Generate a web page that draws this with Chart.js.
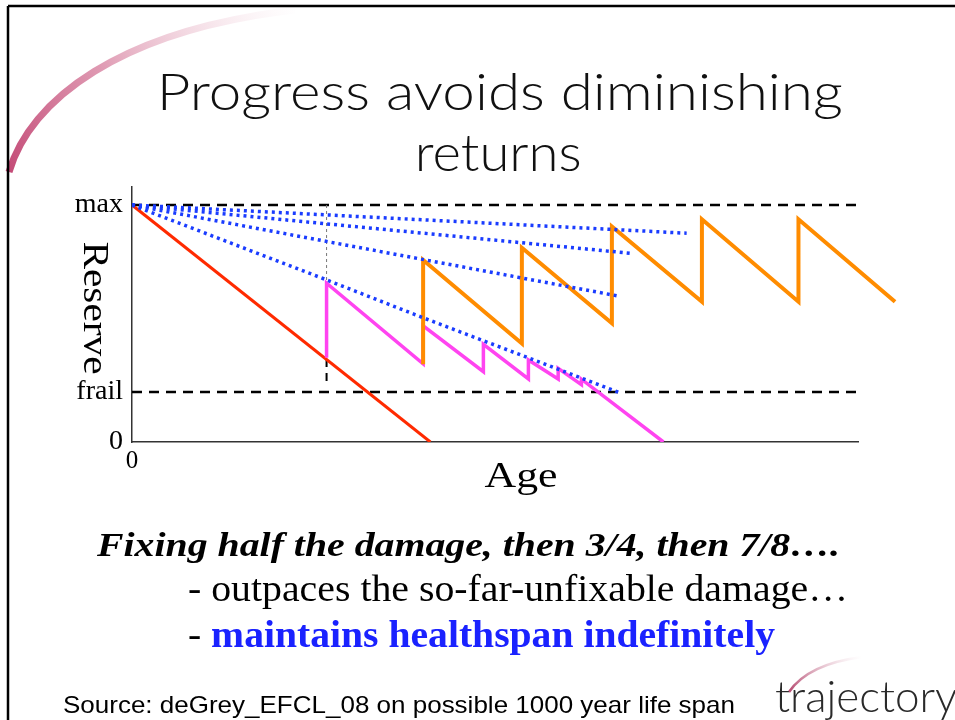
<!DOCTYPE html>
<html>
<head>
<meta charset="utf-8">
<script src="https://cdn.jsdelivr.net/npm/chart.js@4/dist/chart.umd.min.js"></script>
<style>
  body { margin: 0; width: 955px; height: 720px; overflow: hidden; background: #fff; position: relative; }
  canvas { position: absolute; left: 0; top: 0; }
  svg { position: absolute; left: 0; top: 0; }
  .t { position: absolute; white-space: nowrap; line-height: 1; }
</style>
</head>
<body>
<svg width="955" height="720">
  <defs>
    <linearGradient id="sw" gradientUnits="userSpaceOnUse" x1="0" y1="170" x2="300" y2="10">
      <stop offset="0" stop-color="#c24673" stop-opacity="1"/>
      <stop offset="0.4" stop-color="#d7809f" stop-opacity="0.8"/>
      <stop offset="1" stop-color="#f3d6e0" stop-opacity="0"/>
    </linearGradient>
    <linearGradient id="lg" gradientUnits="userSpaceOnUse" x1="788" y1="690" x2="862" y2="658">
      <stop offset="0" stop-color="#b5496f" stop-opacity="1"/>
      <stop offset="1" stop-color="#e8c4d1" stop-opacity="0"/>
    </linearGradient>
  </defs>
  <path d="M 9 172 C 30 100, 120 30, 295 10" stroke="url(#sw)" stroke-width="7" fill="none"/>
  <path d="M 789 692 Q 808 664 862 657" stroke="url(#lg)" stroke-width="2.5" fill="none"/>
  <line x1="8" y1="6" x2="955" y2="6" stroke="#000" stroke-width="2.5"/>
  <line x1="8" y1="6" x2="8" y2="720" stroke="#000" stroke-width="2.5"/>
</svg>
<canvas id="chart" width="955" height="720"></canvas>

<div class="t" data-w="686" data-c="500" style="top:60px;font:300 51px Lato;color:#111">Progress avoids diminishing</div>
<div class="t" data-w="167" data-c="498" style="top:121px;font:300 51px Lato;color:#111">returns</div>

<div class="t" data-w="743" style="left:97px;top:526px;font:italic bold 34px 'Liberation Serif'">Fixing half the damage, then 3/4, then 7/8….</div>
<div class="t" data-w="660" style="left:188px;top:567px;font:37px 'Liberation Serif'">- outpaces the so-far-unfixable damage…</div>
<div class="t" data-w="587" style="left:188px;top:613px;font:37px 'Liberation Serif'">- <b style="color:#1a22ff">maintains healthspan indefinitely</b></div>
<div class="t" data-w="672" style="left:63px;top:691px;font:24px 'Liberation Sans'">Source: deGrey_EFCL_08 on possible 1000 year life span</div>
<div class="t" style="left:775px;top:669px;font:300 44px Lato;color:#2a2a2a">trajectory</div>

<script>
// tick marks on the reserve axis
var tickValues = [0, 21.1, 100];
var tickLabels = ["0", "frail", "max"];

// baseline, no repair
var redAge = [0, 41.1];
var redReserve = [100, 0];

// fixing half the damage once, then smaller fixes
var pinkAge = [26.8, 26.8, 40.1, 40.1, 48.4, 48.4, 54.6, 54.6, 58.7, 58.7, 61.9, 61.9, 73.2];
var pinkReserve = [35.5, 67, 33, 49, 29.7, 41.2, 26.6, 34.6, 26.6, 31.1, 24.2, 26.5, 0];

// progressively better repair
var orangeAge = [40.1, 40.1, 53.7, 53.7, 66.1, 66.1, 78.5, 78.5, 91.8, 91.8, 105.1];
var orangeReserve = [32.8, 76.8, 41.6, 82, 50.1, 90.9, 59.2, 94, 59.2, 94, 59.2];

// dotted envelopes
var blue1Age = [0, 76.4];
var blue1Reserve = [100, 88.1];
var blue2Age = [0, 68.8];
var blue2Reserve = [100, 79.6];
var blue3Age = [0, 66.8];
var blue3Reserve = [100, 61.7];
var blue4Age = [0, 26.8, 39.7, 67];
var blue4Reserve = [100, 68.4, 52.9, 21];

// reference lines
var maxAge = [0, 100];
var maxReserve = [100, 100];
var frailAge = [0, 100];
var frailReserve = [21.1, 21.1];
var markAge = [26.8, 26.8];
var markThinReserve = [100, 66];
var markThickReserve = [35, 24];

function pts(xs, ys) {
    return xs.map(function (x, i) { return {x: x, y: ys[i]}; });
}

function series(xs, ys, color, width, dash, extra) {
    var d = {
        data: pts(xs, ys),
        showLine: true,
        borderColor: color,
        borderWidth: width,
        borderDash: dash || [],
        pointRadius: 0,
        borderCapStyle: 'butt',
        borderJoinStyle: 'miter',
        tension: 0
    };
    return Object.assign(d, extra || {});
}

var blue = '#1a3cff';

// axis titles, stretched like the slide
var axisTitles = {
    id: 'axisTitles',
    afterDraw: function (chart) {
        var c = chart.ctx;
        c.save();
        c.fillStyle = '#000';
        c.font = '35px "Liberation Serif"';
        c.textAlign = 'center';
        c.textBaseline = 'alphabetic';
        var w = c.measureText('Reserve').width;
        c.translate(83.5, 308);
        c.rotate(Math.PI / 2);
        c.scale(133 / w, 1);
        c.fillText('Reserve', 0, 0);
        c.restore();

        c.save();
        c.fillStyle = '#000';
        c.font = '36px "Liberation Serif"';
        c.textAlign = 'center';
        c.textBaseline = 'alphabetic';
        w = c.measureText('Age').width;
        c.translate(521, 487);
        c.scale(73 / w, 1);
        c.fillText('Age', 0, 0);
        c.restore();
    }
};

var chart = new Chart(document.getElementById('chart').getContext('2d'), {
    type: 'scatter',
    data: {
        datasets: [
            series(blue1Age, blue1Reserve, blue, 3.5, [3, 4]),
            series(blue2Age, blue2Reserve, blue, 3.5, [3, 4]),
            series(blue3Age, blue3Reserve, blue, 3.5, [3, 4]),
            series(blue4Age, blue4Reserve, blue, 3.5, [3, 4]),
            series(orangeAge, orangeReserve, '#ff8c00', 4, null, {clip: false}),
            series(pinkAge, pinkReserve, '#ff44f0', 3.5),
            series(redAge, redReserve, '#ff2a00', 3),
            series(markAge, markThinReserve, '#777', 1, [3, 3]),
            series(markAge, markThickReserve, '#000', 2, [8, 6]),
            series(maxAge, maxReserve, '#000', 2.5, [10, 7]),
            series(frailAge, frailReserve, '#000', 2.5, [10, 7])
        ]
    },
    options: {
        responsive: false,
        animation: false,
        layout: {padding: {left: 0, top: 187, right: 97, bottom: 248}},
        plugins: {legend: {display: false}, tooltip: {enabled: false}},
        scales: {
            x: {
                type: 'linear',
                min: 0,
                max: 100,
                grid: {display: false, drawTicks: false},
                border: {color: '#333', width: 1.5},
                ticks: {
                    color: '#000',
                    font: {family: 'Liberation Serif', size: 25},
                    padding: 4,
                    callback: function () { return '0'; }
                },
                afterBuildTicks: function (s) { s.ticks = [{value: 0}]; },
                afterFit: function (s) { s.height = 30; }
            },
            y: {
                min: 0,
                max: 107.6,
                grid: {display: false, drawTicks: false},
                border: {color: '#333', width: 1.5},
                ticks: {
                    color: '#000',
                    font: {family: 'Liberation Serif', size: 28},
                    padding: 9,
                    callback: function (v, i) { return tickLabels[i]; }
                },
                afterBuildTicks: function (s) {
                    s.ticks = tickValues.map(function (v) { return {value: v}; });
                },
                afterFit: function (s) { s.width = 132; }
            }
        }
    },
    plugins: [axisTitles]
});

// squeeze or stretch each text line to the width it has on the slide
function fitText() {
    document.querySelectorAll('.t[data-w]').forEach(function (el) {
        el.style.transform = 'none';
        var w = el.getBoundingClientRect().width;
        var target = +el.dataset.w;
        var k = target / w;
        if (el.dataset.c) {
            el.style.left = (+el.dataset.c - w / 2) + 'px';
            el.style.transformOrigin = 'center top';
        } else {
            el.style.transformOrigin = 'left top';
        }
        el.style.transform = 'scaleX(' + k + ')';
    });
}
fitText();
if (document.fonts) document.fonts.ready.then(fitText);
</script>
</body>
</html>
